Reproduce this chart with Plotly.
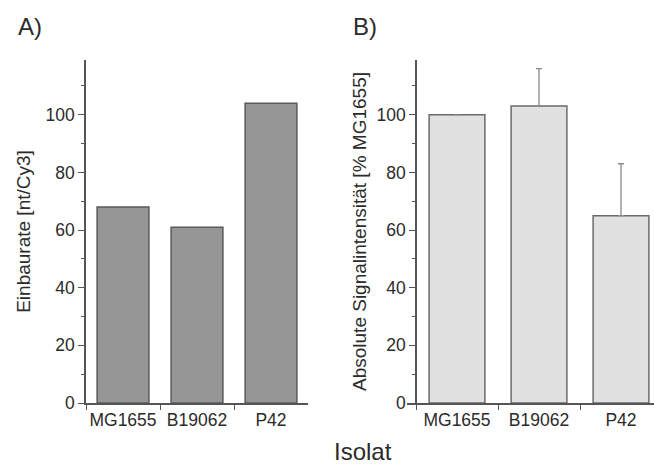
import plotly.graph_objects as go

categories = ["MG1655", "B19062", "P42"]
einbaurate = [68, 61, 104]
signal = [100, 103, 65]
signal_err = [0, 13, 18]

W, H = 654, 467
FONT = "Liberation Sans, Arial, sans-serif"
TXT = "#2b2b2b"
AX = "#555555"

def px(x):
    return x / W

def py(y):
    return (H - y) / H

fig = go.Figure()

fig.add_trace(go.Bar(
    x=categories, y=einbaurate, xaxis="x", yaxis="y",
    width=0.70, marker=dict(color="#969696", line=dict(color="#5a5a5a", width=1.5)),
    showlegend=False,
))

fig.add_trace(go.Bar(
    x=categories, y=signal, xaxis="x2", yaxis="y2",
    width=0.68, marker=dict(color="#e1e1e1", line=dict(color="#6a6a6a", width=1.5)),
    error_y=dict(type="data", symmetric=False, array=signal_err,
                 arrayminus=[0] * len(signal_err), color="#8a8a8a",
                 thickness=1.3, width=3),
    showlegend=False,
))

yax_common = dict(
    range=[0, 119], dtick=20, tick0=0, ticks="outside", ticklen=6, tickwidth=1.3,
    tickcolor=AX, showline=True, linecolor=AX, linewidth=1.5, showgrid=False,
    zeroline=False, tickfont=dict(family=FONT, size=17.5, color=TXT), automargin=False,
    minor=dict(ticks="outside", ticklen=3, tickwidth=1.3, tickcolor=AX, dtick=10, tick0=0, showgrid=False),
    domain=[py(403), py(60)],
)
xax_common = dict(
    type="category", tickson="boundaries", ticks="outside", ticklen=5, tickwidth=1.3,
    tickcolor=AX, showline=True, linecolor=AX, linewidth=1.5, showgrid=False,
    tickfont=dict(family=FONT, size=17.5, color=TXT), tickangle=0, automargin=False,
)

# category scale for panel B: 82 px per category, y-axis at 416 px
scaleB = 82.0
x2_start = -0.5 - (416 - 407) / scaleB
x2_end = -0.5 + (654 - 416) / scaleB

fig.update_layout(
    template="none",
    width=W, height=H,
    margin=dict(l=0, r=0, t=0, b=0),
    paper_bgcolor="white", plot_bgcolor="white",
    bargap=0.3,
    xaxis=dict(**xax_common, domain=[px(86), px(308)], range=[-0.5, 2.5], anchor="y"),
    yaxis=dict(**yax_common, anchor="x",
               title=dict(text="Einbaurate [nt/Cy3]", standoff=10,
                          font=dict(family=FONT, size=19, color=TXT))),
    xaxis2=dict(**xax_common, domain=[px(407), 1.0], range=[x2_start, x2_end], anchor="y2"),
    yaxis2=dict(**yax_common, anchor="free", position=px(416),
                title=dict(text="Absolute Signalintensität [% MG1655]", standoff=4,
                           font=dict(family=FONT, size=19, color=TXT))),
    annotations=[
        dict(text="A)", x=px(16), y=py(27), xref="paper", yref="paper",
             xanchor="left", yanchor="middle", showarrow=False,
             font=dict(family=FONT, size=24, color=TXT)),
        dict(text="B)", x=px(351), y=py(27), xref="paper", yref="paper",
             xanchor="left", yanchor="middle", showarrow=False,
             font=dict(family=FONT, size=24, color=TXT)),
        dict(text="Isolat", x=px(363), y=0, xref="paper", yref="paper",
             xanchor="center", yanchor="bottom", showarrow=False,
             font=dict(family=FONT, size=24, color=TXT)),
    ],
)

fig.write_html("out.html")
